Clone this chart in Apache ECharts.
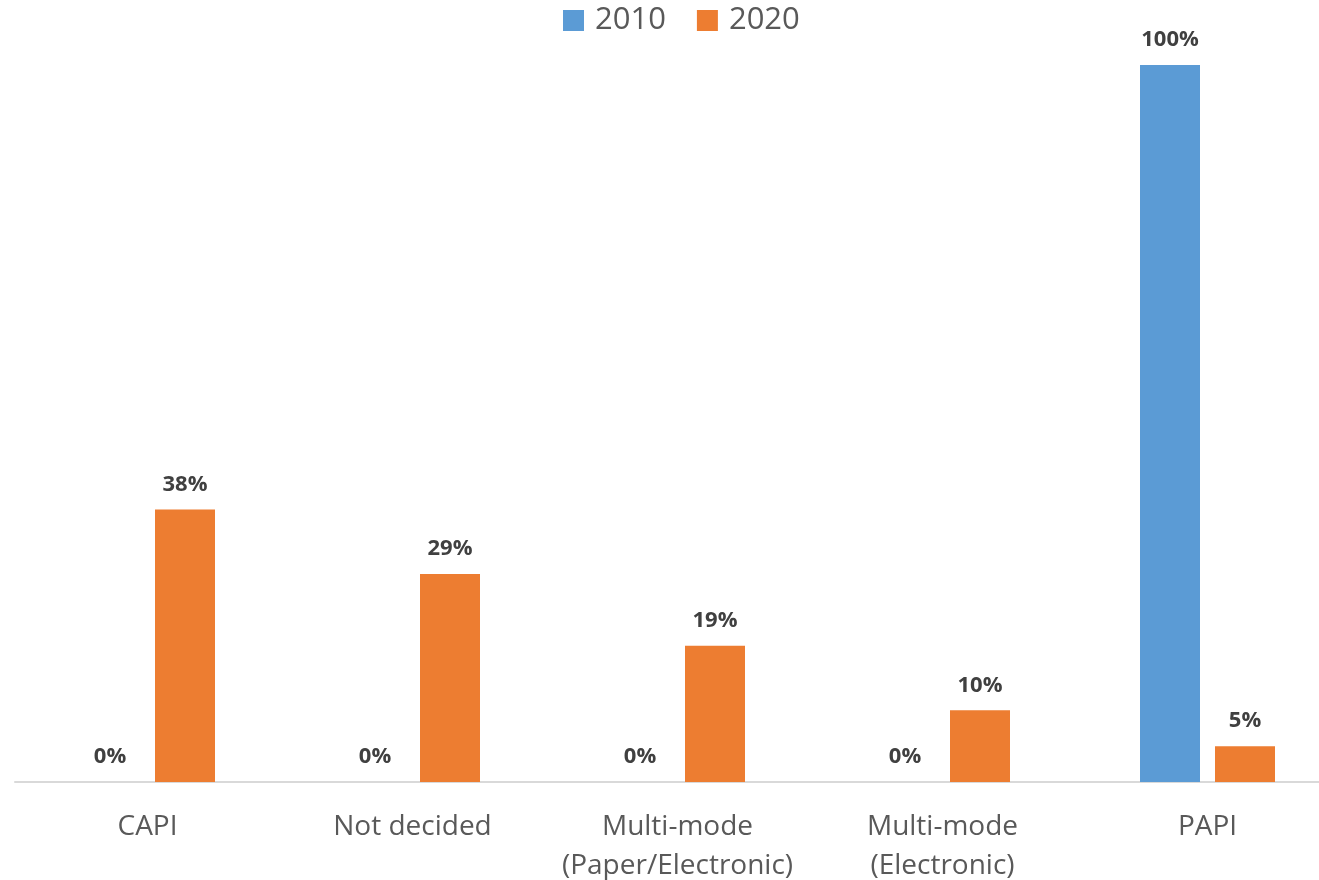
<!DOCTYPE html>
<html>
<head>
<meta charset="utf-8">
<script src="https://cdn.jsdelivr.net/npm/echarts@6/dist/echarts.min.js"></script>
<style>html,body{margin:0;padding:0;background:#fff;overflow:hidden}#c{width:1319px;height:880px}</style>
</head>
<body>
<div id="c"></div>
<script>
const categories = ["CAPI", "Not decided", "Multi-mode\n(Paper/Electronic)", "Multi-mode\n(Electronic)", "PAPI"];
const seriesNames = ["2010", "2020"];
const values2010 = [0, 0, 0, 0, 100];
const values2020 = [38, 29, 19, 10, 5];

const chart = echarts.init(document.getElementById('c'));
const labelStyle = {
  show: true, position: 'top', distance: 14,
  formatter: p => p.value + '%',
  fontFamily: 'Open Sans', fontWeight: 'bold', fontSize: 22, color: '#404040'
};
chart.setOption({
  animation: false,
  textStyle: { fontFamily: 'Open Sans' },
  legend: {
    top: 5, left: 563, padding: 0, itemWidth: 21, itemHeight: 21, itemGap: 31,
    icon: 'rect',
    textStyle: { fontSize: 31, color: '#595959', fontFamily: 'Open Sans', padding: [0, 0, 0, 6] },
    data: seriesNames
  },
  grid: { left: 15, width: 1325, top: 65, height: 717, containLabel: false, outerBoundsMode: 'none' },
  xAxis: {
    type: 'category', data: categories,
    axisLine: { lineStyle: { color: '#d9d9d9', width: 2 } },
    axisTick: { show: false },
    axisLabel: { fontSize: 28, color: '#595959', margin: 26, lineHeight: 39, fontFamily: 'Open Sans', interval: 0 }
  },
  yAxis: { type: 'value', min: 0, max: 100, show: false, splitLine: { show: false } },
  series: [
    { name: seriesNames[0], type: 'bar', data: values2010, barWidth: 60, barGap: '25%',
      itemStyle: { color: '#5b9bd5' }, label: labelStyle },
    { name: seriesNames[1], type: 'bar', data: values2020, barWidth: 60, barGap: '25%',
      itemStyle: { color: '#ed7d31' }, label: labelStyle }
  ]
});
</script>
</body>
</html>
